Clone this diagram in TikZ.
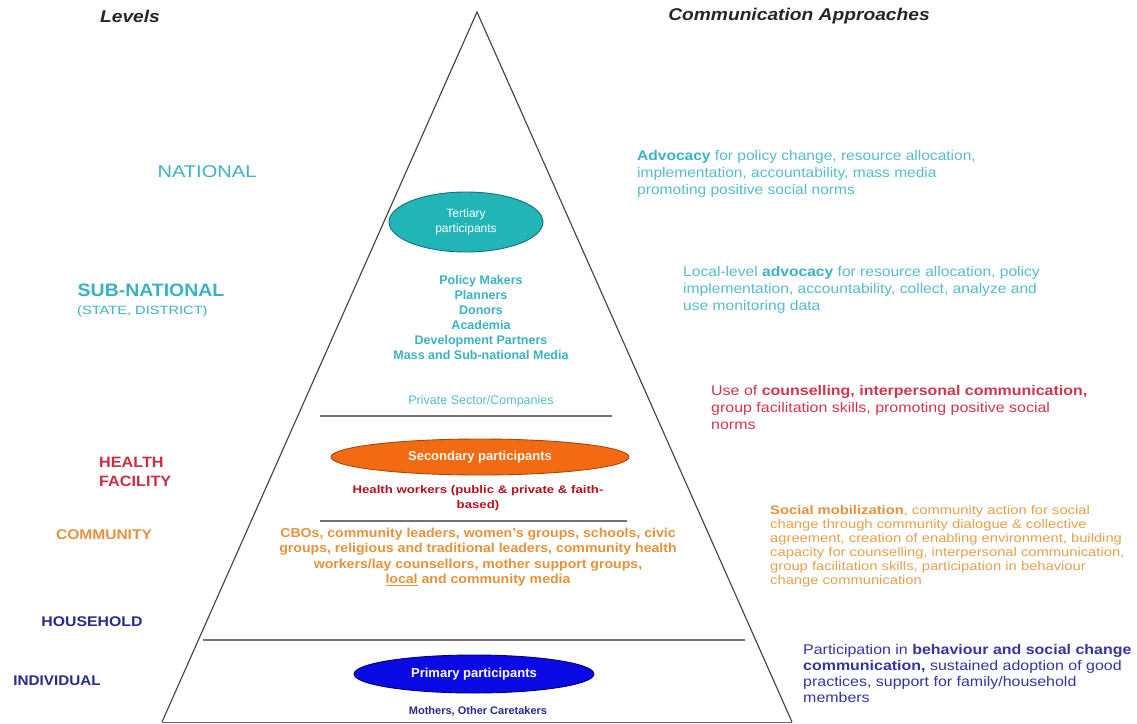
\documentclass[tikz,border=0pt]{standalone}
\usepackage{fontspec}
\setmainfont{Liberation Sans}
\usetikzlibrary{shapes.geometric}

\definecolor{tealtxt}{HTML}{3AB2C2}
\definecolor{tealsoft}{HTML}{56BCCB}
\definecolor{tealfill}{HTML}{22B5B8}
\definecolor{tealedge}{HTML}{176E7C}
\definecolor{crimson}{HTML}{C92E43}
\definecolor{redtxt}{HTML}{D0364D}
\definecolor{darkred}{HTML}{B3121E}
\definecolor{orangetxt}{HTML}{E5923A}
\definecolor{orangesoft}{HTML}{E3A150}
\definecolor{orangefill}{HTML}{F26B12}
\definecolor{orangeedge}{HTML}{A9460E}
\definecolor{navy}{HTML}{2A2A8E}
\definecolor{bluetxt}{HTML}{3434A2}
\definecolor{bluefill}{HTML}{0A0AE4}
\definecolor{blueedge}{HTML}{00007A}

% size, baseline skip
\newcommand{\fs}[2]{\fontsize{#1}{#2}\selectfont}
% widen the current font horizontally
\newcommand{\widen}[1]{\addfontfeature{FakeStretch=#1}}

\begin{document}
\begin{tikzpicture}[x=1pt,y=-1pt,
  heading/.style={font=\bfseries\itshape\fs{17}{19}\widen{1.13}, text=black!85},
  levelname/.style={align=center},
  edgeline/.style={draw=black!75, line width=1.1pt},
  divider/.style={draw=black!55, line width=1.8pt},
  bubble/.style={ellipse, draw, line width=0.9pt, inner sep=0pt},
  approach/.style={anchor=north west, align=left, inner sep=0pt},
  members/.style={align=center, inner sep=0pt}]

\useasboundingbox[fill=white] (0,0) rectangle (1137,723);

% headings
\node[heading] (hlev) at (130,16) {Levels};
\node[heading] (happ) at (799,16) {Communication Approaches};

% pyramid outline
\coordinate (apex) at (477,12);
\coordinate (bl) at (162,722);
\coordinate (br) at (792,722);
\draw[edgeline] (bl) -- (apex) -- (br);
\draw[draw=black!60, line width=1pt] (bl) -- (br);

% tier dividers
\coordinate (d1a) at (320,416); \coordinate (d1b) at (612,416);
\coordinate (d2a) at (320,521); \coordinate (d2b) at (627,521);
\coordinate (d3a) at (203,640); \coordinate (d3b) at (745,640);
\draw[divider] (d1a) -- (d1b);
\draw[divider] (d2a) -- (d2b);
\draw[divider] (d3a) -- (d3b);

% level names
\node[levelname, text=tealtxt, font=\fs{17}{19}\widen{1.18}] (lnat) at (207,172) {NATIONAL};
\node[levelname, text=tealtxt, font=\bfseries\fs{18}{20}\widen{1.08}] (lsub) at (151,290) {SUB-NATIONAL};
\node[anchor=west, text=tealtxt, font=\fs{12}{14}\widen{1.22}, inner sep=0pt] (lsubx) at (77,311) {(STATE, DISTRICT)};
\node[anchor=west, align=left, inner sep=0pt, text=crimson, font=\bfseries\fs{15}{19}\widen{1.08}] (lhf) at (99,472) {HEALTH\\FACILITY};
\node[levelname, text=orangetxt, font=\bfseries\fs{14}{16}\widen{1.11}] (lcom) at (104,535) {COMMUNITY};
\node[levelname, text=navy, font=\bfseries\fs{14}{16}\widen{1.13}] (lhh) at (92,622) {HOUSEHOLD};
\node[levelname, text=navy, font=\bfseries\fs{14}{16}\widen{1.09}] (lind) at (57,681) {INDIVIDUAL};

% tertiary tier
\node[bubble, fill=tealfill, draw=tealedge, minimum width=154, minimum height=60,
      text=white, font=\fs{12}{15}, align=center] (tert) at (466,222) {Tertiary\\participants};
\node[members, text=tealtxt, font=\bfseries\fs{12.5}{15}] (tlist) at (481,318)
  {Policy Makers\\Planners\\Donors\\Academia\\Development Partners\\Mass and Sub-national Media};
\node[members, text=tealsoft, font=\fs{12.5}{15}] (tpriv) at (481,401) {Private Sector/Companies};

% secondary tier
\node[bubble, fill=orangefill, draw=orangeedge, minimum width=298, minimum height=36,
      text=white!92!orange, font=\bfseries\fs{13}{15}] (sec) at (480,457) {Secondary participants};
\node[members, text=darkred, font=\bfseries\fs{11}{15}\widen{1.2}] (slist) at (478,498)
  {Health workers (public \& private \& faith-\\based)};
\node[members, text=orangetxt, font=\bfseries\fs{13}{15.5}\widen{1.085}] (clist) at (478,557)
  {CBOs, community leaders, women's groups, schools, civic\\
   groups, religious  and traditional leaders, community health\\
   workers/lay counsellors, mother support groups,\\
   \underline{local} and community media};

% primary tier
\node[bubble, fill=bluefill, draw=blueedge, minimum width=240, minimum height=38,
      text=white, font=\bfseries\fs{13}{15}] (prim) at (474,674) {Primary participants};
\node[members, text=navy, font=\bfseries\fs{11}{13}] (plist) at (478,711) {Mothers, Other Caretakers};

% communication approaches
\node[approach, text=tealsoft, font=\fs{14}{17}\widen{1.11}] (anat) at (637,150)
  {\textcolor{tealtxt}{\textbf{Advocacy}}  for policy change, resource allocation,\\
   implementation, accountability, mass media\\
   promoting positive social norms};
\node[approach, text=tealsoft, font=\fs{14}{17}\widen{1.115}] (asub) at (683,266)
  {Local-level \textcolor{tealtxt}{\textbf{advocacy}}  for resource allocation, policy\\
   implementation, accountability, collect, analyze and\\
   use monitoring data};
\node[approach, text=redtxt, font=\fs{14}{17}\widen{1.14}] (ahf) at (711,385)
  {Use of \textbf{counselling, interpersonal  communication,}\\
   group facilitation skills, promoting positive social\\
   norms};
\node[approach, text=orangesoft, font=\fs{12.5}{14}\widen{1.18}] (acom) at (770,505)
  {\textcolor{orangetxt}{\textbf{Social mobilization}},  community action for social\\
   change through community dialogue \& collective\\
   agreement, creation of enabling environment, building\\
   capacity for counselling, interpersonal communication,\\
   group facilitation skills, participation in behaviour\\
   change communication};
\node[approach, text=bluetxt, font=\fs{14}{16}\widen{1.14}] (aind) at (803,644)
  {Participation in \textbf{behaviour  and  social  change}\\
   \textbf{communication,} sustained adoption of good\\
   practices, support for family/household\\
   members};

\end{tikzpicture}
\end{document}
